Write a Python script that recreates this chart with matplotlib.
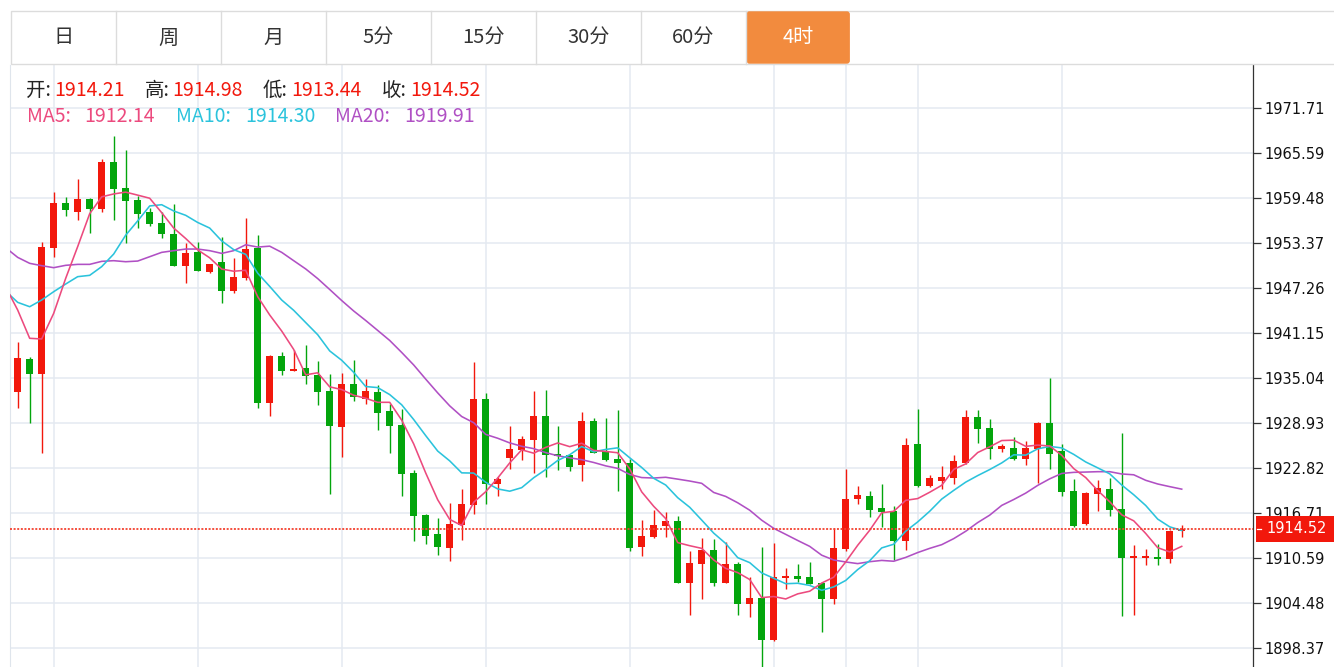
import numpy as np
import matplotlib
matplotlib.use('Agg')
import matplotlib.pyplot as plt
from matplotlib.patches import FancyBboxPatch, Rectangle
from matplotlib.transforms import blended_transform_factory

# ---- data (4h candles) ----
opens = [1933.15, 1937.63, 1935.59, 1952.65, 1958.71, 1957.49, 1959.35, 1957.94, 1964.28, 1960.84,
         1959.16, 1957.49, 1956.04, 1954.55, 1950.21, 1952.06, 1949.44, 1950.70, 1946.77, 1948.62,
         1952.65, 1931.65, 1937.99, 1935.95, 1936.36, 1935.45, 1933.24, 1928.35, 1934.14, 1932.19,
         1933.10, 1930.47, 1928.66, 1922.10, 1916.45, 1913.78, 1911.97, 1915.00, 1917.72, 1932.10,
         1920.66, 1924.18, 1925.27, 1926.62, 1929.79, 1924.72, 1924.50, 1923.14, 1929.16, 1925.04,
         1923.95, 1923.46, 1912.05, 1913.41, 1914.90, 1915.54, 1907.15, 1909.81, 1911.70, 1907.20,
         1909.81, 1904.27, 1905.17, 1899.42, 1907.80, 1908.07, 1907.93, 1907.12, 1904.95, 1911.78,
         1918.52, 1918.97, 1917.30, 1916.92, 1912.87, 1926.08, 1920.33, 1921.01, 1921.42, 1923.50,
         1929.70, 1928.21, 1925.31, 1925.49, 1923.95, 1925.40, 1928.93, 1925.04, 1919.66, 1915.13,
         1919.29, 1919.97, 1917.26, 1910.56, 1910.61, 1910.65, 1910.43, 1914.21]
highs = [1939.84, 1937.80, 1953.42, 1960.21, 1959.57, 1961.97, 1959.50, 1964.69, 1967.85, 1966.00,
         1959.71, 1958.12, 1957.49, 1958.62, 1953.28, 1953.42, 1950.50, 1954.10, 1951.25, 1956.77,
         1954.41, 1938.10, 1938.53, 1938.85, 1939.43, 1937.35, 1935.59, 1935.72, 1937.49, 1934.82,
         1934.09, 1931.43, 1930.84, 1922.56, 1916.50, 1916.04, 1918.03, 1919.98, 1937.17, 1933.01,
         1921.60, 1928.43, 1927.08, 1933.18, 1933.32, 1928.43, 1924.55, 1930.38, 1929.61, 1929.61,
         1930.61, 1924.04, 1915.67, 1917.12, 1916.78, 1916.24, 1911.49, 1913.34, 1913.09, 1912.75,
         1910.00, 1908.02, 1912.10, 1912.60, 1909.15, 1909.70, 1909.97, 1907.30, 1914.60, 1922.60,
         1920.31, 1919.63, 1920.56, 1917.66, 1926.90, 1930.83, 1921.78, 1923.05, 1924.59, 1930.61,
         1930.61, 1929.47, 1926.00, 1926.99, 1926.40, 1929.00, 1935.00, 1926.00, 1921.24, 1919.52,
         1921.10, 1921.42, 1927.57, 1912.28, 1911.83, 1912.42, 1914.30, 1914.98]
lows = [1930.88, 1928.94, 1924.87, 1951.47, 1956.95, 1956.49, 1954.73, 1957.49, 1956.49, 1953.28,
        1955.41, 1955.68, 1954.05, 1950.21, 1947.85, 1949.53, 1949.30, 1945.18, 1946.50, 1948.26,
        1930.98, 1929.80, 1935.45, 1935.90, 1934.23, 1931.29, 1919.21, 1924.28, 1931.88, 1931.52,
        1927.90, 1924.86, 1918.98, 1912.83, 1912.42, 1910.93, 1910.16, 1912.97, 1916.58, 1917.94,
        1918.98, 1922.69, 1923.91, 1922.14, 1921.56, 1922.55, 1922.37, 1920.97, 1924.80, 1923.73,
        1919.66, 1911.51, 1910.83, 1913.30, 1913.43, 1907.12, 1902.82, 1904.99, 1906.76, 1907.10,
        1902.82, 1902.59, 1895.50, 1899.33, 1906.30, 1907.25, 1906.98, 1900.56, 1904.31, 1911.50,
        1917.87, 1916.06, 1914.72, 1910.26, 1911.62, 1920.20, 1920.20, 1919.88, 1920.65, 1923.30,
        1926.17, 1924.04, 1924.95, 1923.90, 1923.23, 1920.79, 1922.69, 1918.98, 1914.80, 1915.00,
        1916.94, 1916.22, 1902.69, 1902.78, 1909.66, 1909.57, 1909.88, 1913.44]
closes = [1937.76, 1935.59, 1952.83, 1958.71, 1957.76, 1959.30, 1957.94, 1964.28, 1960.66, 1959.03,
          1957.22, 1955.86, 1954.50, 1950.21, 1951.92, 1949.53, 1950.43, 1946.86, 1948.76, 1952.56,
          1931.65, 1937.99, 1935.95, 1936.27, 1935.27, 1933.05, 1928.44, 1934.14, 1932.42, 1933.19,
          1930.29, 1928.48, 1922.01, 1916.27, 1913.51, 1912.06, 1915.14, 1917.85, 1932.10, 1920.66,
          1921.34, 1925.40, 1926.76, 1929.79, 1924.59, 1924.36, 1922.91, 1929.11, 1924.86, 1923.91,
          1923.46, 1911.96, 1913.50, 1915.09, 1915.54, 1907.15, 1909.88, 1911.70, 1907.20, 1909.81,
          1904.30, 1905.17, 1899.42, 1907.93, 1908.16, 1907.75, 1906.98, 1904.99, 1911.87, 1918.52,
          1919.11, 1917.14, 1916.85, 1912.89, 1925.94, 1920.33, 1921.42, 1921.56, 1923.68, 1929.70,
          1928.03, 1925.31, 1925.81, 1923.95, 1925.49, 1928.89, 1924.72, 1919.52, 1914.86, 1919.43,
          1920.06, 1917.12, 1910.61, 1910.83, 1910.83, 1910.43, 1914.18, 1914.52]

# moving averages, first value belongs to the (hidden) bar before the first visible one
ma5 = [1947.36, 1944.23, 1940.39, 1940.30, 1943.78, 1948.53, 1952.84, 1957.31, 1959.60, 1959.99,
       1960.24, 1959.83, 1959.41, 1957.45, 1955.36, 1953.94, 1952.40, 1951.32, 1949.79, 1949.50,
       1949.63, 1946.05, 1943.56, 1941.38, 1938.88, 1935.43, 1935.71, 1933.80, 1933.43, 1932.66,
       1932.25, 1931.70, 1931.70, 1929.28, 1926.05, 1922.11, 1918.47, 1915.80, 1914.97, 1918.13,
       1919.56, 1921.42, 1923.47, 1925.25, 1924.79, 1925.58, 1926.18, 1925.68, 1926.15, 1925.17,
       1925.03, 1924.85, 1922.66, 1919.54, 1917.58, 1915.91, 1912.65, 1912.23, 1911.87, 1910.29,
       1909.15, 1908.58, 1907.64, 1905.18, 1905.33, 1905.00, 1905.69, 1906.05, 1907.16, 1907.95,
       1910.02, 1912.29, 1914.33, 1916.70, 1916.90, 1918.39, 1918.63, 1919.49, 1920.43, 1922.59,
       1923.34, 1924.88, 1925.66, 1926.51, 1926.56, 1925.72, 1925.89, 1925.77, 1924.51, 1922.70,
       1921.48, 1919.72, 1918.20, 1916.42, 1915.61, 1913.89, 1911.96, 1911.38, 1912.14]
ma10 = [1946.81, 1945.27, 1944.68, 1945.59, 1946.72, 1947.76, 1948.76, 1948.94, 1950.12, 1951.83,
        1954.39, 1956.33, 1958.36, 1958.53, 1957.68, 1957.09, 1956.12, 1955.36, 1953.62, 1952.43,
        1951.79, 1949.23, 1947.44, 1945.59, 1944.19, 1942.53, 1940.88, 1938.68, 1937.41, 1935.77,
        1933.84, 1933.70, 1932.75, 1931.36, 1929.36, 1927.18, 1925.08, 1923.75, 1922.12, 1922.09,
        1920.84, 1919.94, 1919.63, 1920.11, 1921.46, 1922.57, 1923.80, 1924.58, 1925.70, 1924.98,
        1925.30, 1925.52, 1924.17, 1922.85, 1921.38, 1920.47, 1918.75, 1917.45, 1915.71, 1913.94,
        1912.53, 1910.61, 1909.93, 1908.53, 1907.81, 1907.07, 1907.13, 1906.84, 1906.17, 1906.64,
        1907.51, 1908.99, 1910.19, 1911.93, 1912.43, 1914.20, 1915.46, 1916.91, 1918.56, 1919.74,
        1920.86, 1921.75, 1922.57, 1923.47, 1924.57, 1924.53, 1925.38, 1925.71, 1925.51, 1924.63,
        1923.60, 1922.80, 1921.99, 1920.47, 1919.15, 1917.69, 1915.84, 1914.79, 1914.30]
ma20 = [1952.69, 1951.38, 1950.57, 1950.25, 1949.98, 1950.30, 1950.43, 1950.43, 1950.84, 1950.93,
        1950.79, 1950.88, 1951.47, 1952.06, 1952.29, 1952.51, 1952.51, 1952.29, 1951.92, 1952.29,
        1953.09, 1952.78, 1952.90, 1952.06, 1950.93, 1949.81, 1948.50, 1947.02, 1945.52, 1944.10,
        1942.81, 1941.46, 1940.10, 1938.47, 1936.77, 1934.85, 1932.98, 1931.22, 1929.77, 1928.93,
        1927.34, 1926.82, 1926.19, 1925.73, 1925.41, 1924.87, 1924.44, 1924.16, 1923.91, 1923.53,
        1923.07, 1922.73, 1921.90, 1921.48, 1921.42, 1921.52, 1921.27, 1921.01, 1920.70, 1919.46,
        1918.92, 1918.06, 1917.05, 1915.69, 1914.59, 1913.77, 1912.94, 1912.14, 1910.94, 1910.29,
        1910.02, 1909.80, 1910.06, 1910.23, 1910.12, 1910.64, 1911.30, 1911.87, 1912.37, 1913.19,
        1914.19, 1915.37, 1916.38, 1917.70, 1918.50, 1919.37, 1920.42, 1921.31, 1922.04, 1922.19,
        1922.23, 1922.28, 1922.28, 1921.97, 1921.86, 1921.11, 1920.61, 1920.25, 1919.91]

price_ticks = [1898.37, 1904.48, 1910.59, 1916.71, 1922.82, 1928.93, 1935.04,
               1941.15, 1947.26, 1953.37, 1959.48, 1965.59, 1971.71]
price_labels = ['1898.37', '1904.48', '1910.59', '1916.71', '1922.82', '1928.93', '1935.04',
                '1941.15', '1947.26', '1953.37', '1959.48', '1965.59', '1971.71']
date_grid = [3, 15, 27, 39, 51, 63, 69, 75, 87]  # bar positions of the vertical grid lines

tabs = ['日', '周', '月', '5分', '15分', '30分', '60分', '4时']
ohlc_names = ['开:', '高:', '低:', '收:']
ohlc_values = ['1914.21', '1914.98', '1913.44', '1914.52']
ma_names = ['MA5:', 'MA10:', 'MA20:']
ma_values = ['1912.14', '1914.30', '1919.91']
last_price = 1914.52

RED = '#f2180c'
GREEN = '#03a50c'
MA_COLORS = ['#ec4a7e', '#2bc3dc', '#b050c4']
GRID = '#e4eaf1'
CJK = ['Noto Sans CJK SC', 'DejaVu Sans']

# ---- figure ----
W, H = 1334, 667
fig = plt.figure(figsize=(W / 100, H / 100), dpi=100)
fig.patch.set_facecolor('white')

# chart area: x 10..1253 px, y 65..667 px
ax = fig.add_axes([10 / W, 0, 1243 / W, 602 / H])
ax.set_xlim(-0.64, 102.94)
ax.set_ylim(1895.76, 1977.50)

o = np.array(opens); h = np.array(highs); l = np.array(lows); c = np.array(closes)
idx = np.arange(len(c))
cols = np.where(c >= o, RED, GREEN)
ax.vlines(idx, l, h, colors=cols, lw=1.0, zorder=3)
ax.bar(idx, np.maximum(np.abs(c - o), 0.22), bottom=np.minimum(o, c),
       width=0.62, color=cols, lw=0, zorder=4)

xm = np.arange(-1, len(c))
for vals, col in zip([ma20, ma10, ma5], MA_COLORS[::-1]):
    ax.plot(xm, vals, color=col, lw=1.15, zorder=5)

ax.axhline(last_price, color='#f3412f', lw=1.3, ls=(0, (1.1, 0.9)), zorder=6)

# grid + axes styling
ax.set_xticks(date_grid)
ax.set_xticklabels([])
ax.tick_params(axis='x', length=0)
ax.set_yticks(price_ticks)
ax.set_yticklabels(price_labels)
ax.yaxis.tick_right()
ax.tick_params(axis='y', length=5.8, width=0.9, color='#333333', pad=2.6,
               labelsize=10.5, labelcolor='#111111')
ax.grid(True, color=GRID, lw=1.1, zorder=0)
ax.set_axisbelow(True)
for s in ['top', 'bottom']:
    ax.spines[s].set_visible(False)
ax.spines['left'].set_color('#dfe5ec')
ax.spines['right'].set_color('#333333')
ax.spines['right'].set_linewidth(0.9)

# last price tag on the axis
tr = blended_transform_factory(ax.transAxes, ax.transData)
ax.add_patch(Rectangle((1.0024, last_price - 1.77), 0.0628, 3.53, transform=tr,
                       facecolor='#f2180c', edgecolor='none', clip_on=False, zorder=10))
ax.plot([1.0030, 1.0066], [last_price, last_price], transform=tr, color='white',
        lw=0.9, clip_on=False, zorder=11)
ax.text(1.0105, last_price, '1914.52', transform=tr, color='white', fontsize=10.5,
        ha='left', va='center', clip_on=False, zorder=11)

# ---- overlay in pixel coordinates: tab bar and header ----
ov = fig.add_axes([0, 0, 1, 1])
ov.set_xlim(0, W)
ov.set_ylim(H, 0)
ov.axis('off')

border = '#dcdcdc'
ov.add_patch(Rectangle((10.5, 10.7), W, 53.6, facecolor='white', edgecolor=border, lw=1.0))
cell = 105
for k, name in enumerate(tabs):
    x0 = 10.7 + cell * k
    if k > 0:
        ov.plot([x0, x0], [10.7, 64.3], color=border, lw=1.0)
    if name == '4时':
        ov.add_patch(FancyBboxPatch((x0 + 0.8, 11.3), cell - 1.6, 52.4,
                                    boxstyle='round,pad=0,rounding_size=3',
                                    facecolor='#f28b3e', edgecolor='none'))
        ov.text(x0 + cell / 2, 38, name, color='white', fontsize=14.5,
                family=CJK, ha='center', va='center')
    else:
        ov.text(x0 + cell / 2, 38, name, color='#333333', fontsize=14.5,
                family=CJK, ha='center', va='center')

label_x = [26, 145, 263, 381.7]
value_x = [54.3, 172.7, 291.7, 410]
for name, val, lx, vx in zip(ohlc_names, ohlc_values, label_x, value_x):
    ov.text(lx, 90, name, color='#222222', fontsize=14, family=CJK, ha='left', va='center')
    ov.text(vx, 90, val, color='#f2180c', fontsize=14, family=CJK, ha='left', va='center')

for name, val, lx, vx, col in zip(ma_names, ma_values, [26.7, 176, 335],
                                  [84, 245, 404], MA_COLORS):
    ov.text(lx, 117, name, color=col, fontsize=14, family=CJK, ha='left', va='center')
    ov.text(vx, 117, val, color=col, fontsize=14, family=CJK, ha='left', va='center')

fig.savefig('out.png', dpi=100, facecolor='white')
